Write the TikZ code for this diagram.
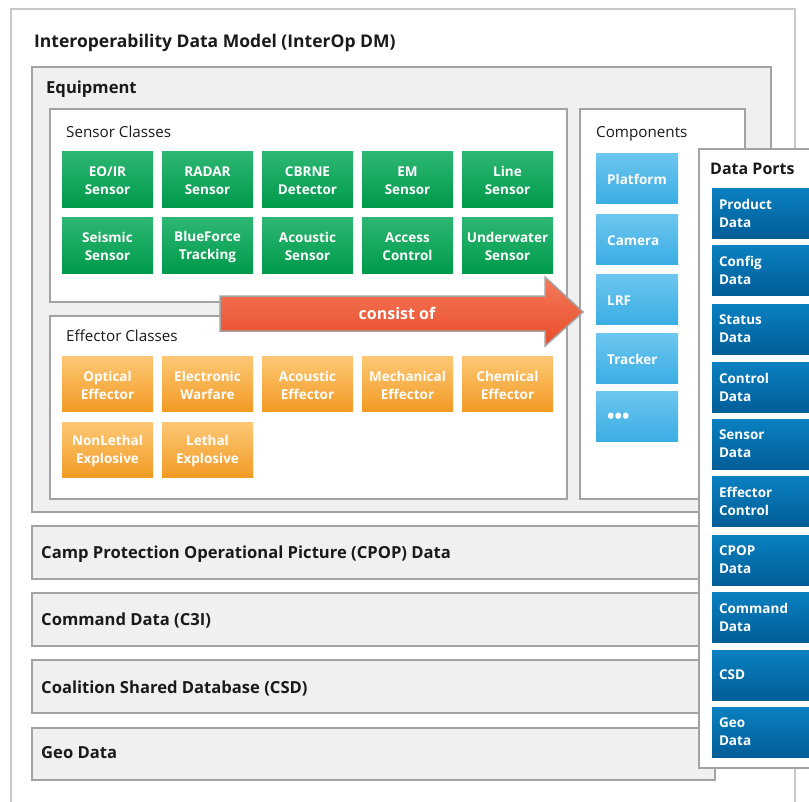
\documentclass[tikz,border=0pt]{standalone}
\usepackage{fontspec}
\setmainfont{Open Sans}
\definecolor{outerborder}{HTML}{C8C8C8}
\definecolor{panelborder}{HTML}{A3A3A3}
\definecolor{panelfill}{HTML}{F0F0F0}
\definecolor{gtop}{HTML}{2EB774}
\definecolor{gbot}{HTML}{009A4B}
\definecolor{otop}{HTML}{FDC875}
\definecolor{obot}{HTML}{F29B25}
\definecolor{lbtop}{HTML}{6DC6EF}
\definecolor{lbbot}{HTML}{3BAEE4}
\definecolor{dbtop}{HTML}{0A80C1}
\definecolor{dbbot}{HTML}{005E97}
\definecolor{atop}{HTML}{F37A58}
\definecolor{abot}{HTML}{E94C2C}
\definecolor{ink}{HTML}{1A1A1A}
\begin{document}
\begin{tikzpicture}[x=1pt,y=-1pt,
  sz/.style 2 args={minimum width=#1pt, minimum height=#2pt},
  panel/.style={draw=panelborder, line width=2pt, fill=panelfill, anchor=north west, inner sep=0pt},
  wpanel/.style={draw=panelborder, line width=2pt, fill=white, anchor=north west, inner sep=0pt},
  bigtitle/.style={anchor=base west, inner sep=0pt, text=ink, font=\bfseries\fontsize{16.6}{19}\selectfont},
  subtitle/.style={anchor=base west, inner sep=0pt, text=ink, font=\fontsize{15.2}{17}\selectfont},
  celltext/.style={inner sep=0pt, text=white, font=\bfseries\fontsize{13.5}{18}\selectfont},
  ctext/.style={celltext, align=center, yshift=-1.8pt},
  ltext/.style={celltext, align=left, anchor=west, xshift=11pt, yshift=-1.8pt},
  cell/.style={anchor=north west, inner sep=0pt, outer sep=0pt},
  gcell/.style={cell, sz={91}{56}, top color=gtop, bottom color=gbot, label={[ctext]center:{#1}}},
  ocell/.style={cell, sz={91}{55}, top color=otop, bottom color=obot, label={[ctext]center:{#1}}},
  lbcell/.style={cell, sz={82}{50}, top color=lbtop, bottom color=lbbot, label={[ltext]west:{#1}}},
  dbcell/.style={cell, sz={120}{50}, inner xsep=7pt, text width=106pt, align=left, text=white,
     font=\bfseries\fontsize{13.5}{18}\selectfont, top color=dbtop, bottom color=dbbot},
  bar/.style={panel, sz={683}{53}},
]
\clip (0,0) rectangle (809,801);
\fill[white] (0,0) rectangle (809,801);
% outer
\node[draw=outerborder, line width=1.5pt, fill=white, anchor=north west, inner sep=0pt, sz={784}{830}] (outer) at (10,8) {};
\node[bigtitle, font=\bfseries\fontsize{17.5}{20}\selectfont] (outert) at (34,47) {Interoperability Data Model (InterOp DM)};
% equipment
\node[panel, sz={739}{445}] (equip) at (31,66) {};
\node[bigtitle] (equipt) at (46,93) {Equipment};
% sensor classes
\node[wpanel, sz={517}{193}] (sens) at (49,108) {};
\node[subtitle] (senst) at (66,137) {Sensor Classes};
\node[gcell={EO/IR\\Sensor}] (s1) at (62,151) {};
\node[gcell={RADAR\\Sensor}] (s2) at (162,151) {};
\node[gcell={CBRNE\\Detector}] (s3) at (262,151) {};
\node[gcell={EM\\Sensor}] (s4) at (362,151) {};
\node[gcell={Line\\Sensor}] (s5) at (462,151) {};
\node[gcell={Seismic\\Sensor}] (s6) at (62,217) {};
\node[gcell={BlueForce\\Tracking}] (s7) at (162,217) {};
\node[gcell={Acoustic\\Sensor}] (s8) at (262,217) {};
\node[gcell={Access\\Control}] (s9) at (362,217) {};
\node[gcell={Underwater\\Sensor}] (s10) at (462,217) {};
% effector classes
\node[wpanel, sz={517}{183}] (eff) at (49,315) {};
\node[subtitle] (efft) at (66,341) {Effector Classes};
\node[ocell={Optical\\Effector}] (e1) at (62,356) {};
\node[ocell={Electronic\\Warfare}] (e2) at (162,356) {};
\node[ocell={Acoustic\\Effector}] (e3) at (262,356) {};
\node[ocell={Mechanical\\Effector}] (e4) at (362,356) {};
\node[ocell={Chemical\\Effector}] (e5) at (462,356) {};
\node[ocell={NonLethal\\Explosive}] (e6) at (62,422) {};
\node[ocell={Lethal\\Explosive}] (e7) at (162,422) {};
% components
\node[wpanel, sz={165}{390}] (comp) at (579,108) {};
\node[subtitle] (compt) at (596,137) {Components};
\node[lbcell={Platform}] (c1) at (596,153) {};
\node[lbcell={Camera}] (c2) at (596,214) {};
\node[lbcell={LRF}] (c3) at (596,274) {};
\node[lbcell={Tracker}] (c4) at (596,333) {};
\node[lbcell={\fontsize{20}{20}\selectfont •••}] (c5) at (596,391) {};
% arrow
\shade[top color=atop, bottom color=abot, draw=panelborder, line width=1.5pt, line join=miter]
  (220,296) -- (545,296) -- (545,277) -- (583,312) -- (545,346) -- (545,331) -- (220,331) -- cycle;
\node[anchor=center, inner sep=0pt, text=white, font=\bfseries\fontsize{16}{18}\selectfont] (consist) at (397,313) {consist of};
% bars
\node[bar] (b1) at (31,525) {};
\node[bigtitle] (b1t) at (41,558) {Camp Protection Operational Picture (CPOP) Data};
\node[bar] (b2) at (31,592) {};
\node[bigtitle] (b2t) at (41,625) {Command Data (C3I)};
\node[bar] (b3) at (31,659) {};
\node[bigtitle] (b3t) at (41,693) {Coalition Shared Database (CSD)};
\node[bar, sz={683}{52}] (b4) at (31,727) {};
\node[bigtitle] (b4t) at (41,758) {Geo Data};
% data ports
\node[wpanel, sz={130}{619}] (dp) at (698,148) {};
\node[bigtitle, font=\bfseries\fontsize{16}{19}\selectfont] (dpt) at (710,174) {Data Ports};
\node[dbcell] (d1) at (712,188) {Product\\Data};
\node[dbcell] (d2) at (712,245) {Config\\Data};
\node[dbcell] (d3) at (712,304) {Status\\Data};
\node[dbcell] (d4) at (712,362) {Control\\Data};
\node[dbcell] (d5) at (712,419) {Sensor\\Data};
\node[dbcell] (d6) at (712,476) {Effector\\Control};
\node[dbcell] (d7) at (712,535) {CPOP\\Data};
\node[dbcell] (d8) at (712,592) {Command\\Data};
\node[dbcell] (d9) at (712,650) {CSD};
\node[dbcell] (d10) at (712,707) {Geo\\Data};
\end{tikzpicture}
\end{document}
